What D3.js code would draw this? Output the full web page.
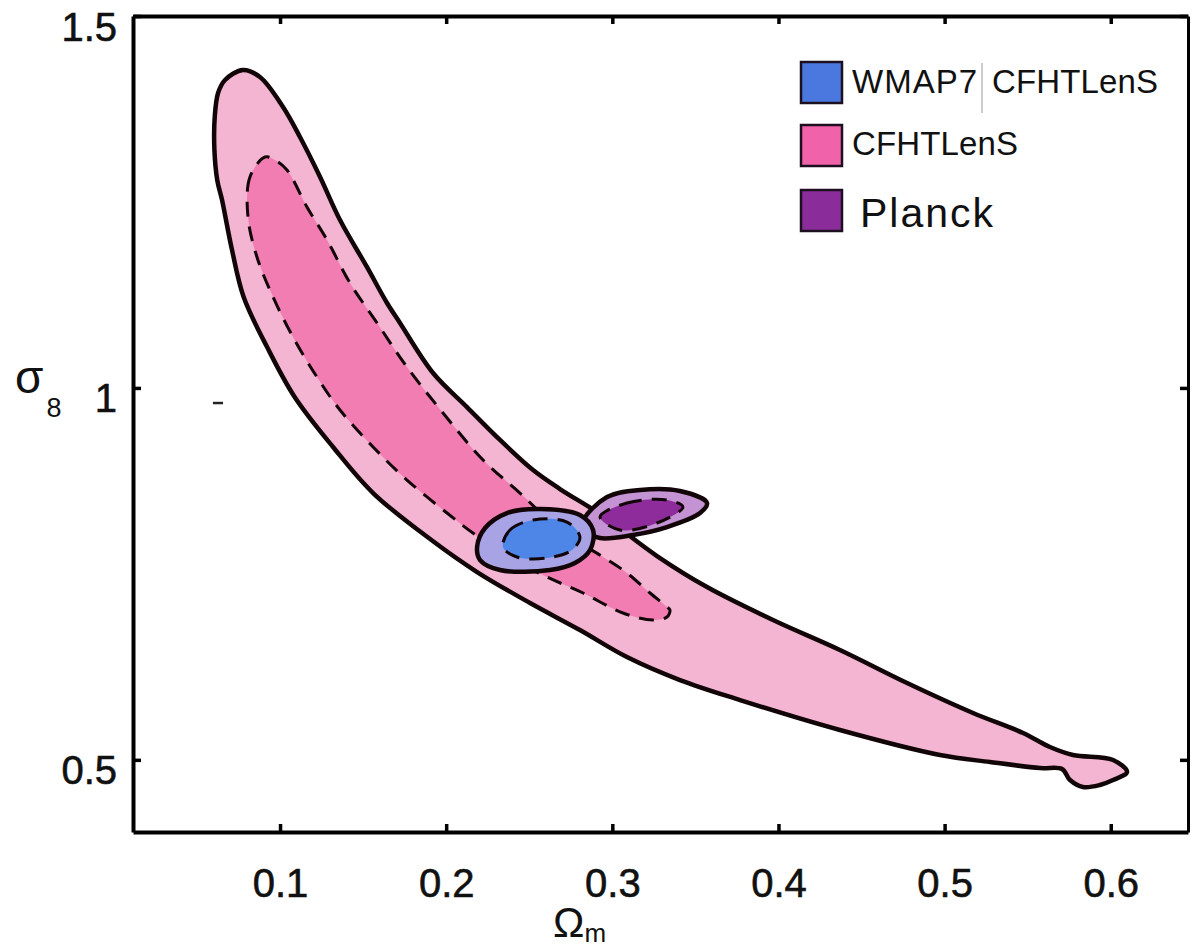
<!DOCTYPE html>
<meta charset="utf-8">
<html>
<head>
<style>
  body { margin: 0; background: #fff; }
  text { font-family: "Liberation Sans", Arial, sans-serif; fill: #111; }
</style>
</head>
<body>
<div id="my_dataviz"></div>
<script src="https://d3js.org/d3.v7.min.js"></script>
<script>

// ---- data (Omega_m, sigma_8) ----
var xTicks = [0.1, 0.2, 0.3, 0.4, 0.5, 0.6];
var yTicks = [0.5, 1, 1.5];

// CFHTLenS outer (2 sigma) contour
var cfhtOuter = [
  [0.0777,1.4274],[0.0669,1.4140],[0.0627,1.3965],[0.0607,1.3642],[0.0605,1.3199],
  [0.0622,1.2795],[0.0651,1.2526],[0.0711,1.1854],[0.0781,1.1222],[0.0922,1.0550],
  [0.1088,0.9878],[0.1319,0.9206],[0.1560,0.8587],[0.1911,0.7955],[0.2186,0.7525],
  [0.2505,0.7108],[0.2805,0.6745],[0.3088,0.6382],[0.3407,0.6073],[0.3769,0.5804],
  [0.4370,0.5401],[0.4972,0.5065],[0.5273,0.4971],[0.5574,0.4890],[0.5707,0.4877],
  [0.5755,0.4729],[0.5833,0.4635],[0.5935,0.4662],[0.6014,0.4729],[0.6098,0.4836],
  [0.6014,0.4998],[0.5773,0.5065],[0.5634,0.5172],[0.5472,0.5361],[0.5171,0.5630],
  [0.4774,0.6033],[0.4370,0.6477],[0.3967,0.6880],[0.3570,0.7323],[0.3269,0.7740],
  [0.2926,0.8305],[0.2685,0.8641],[0.2523,0.8896],[0.2324,0.9300],[0.2125,0.9743],
  [0.1921,1.0200],[0.1722,1.0873],[0.1644,1.1142],[0.1523,1.1626],[0.1361,1.2257],
  [0.1241,1.2836],[0.1120,1.3373],[0.1018,1.3777],[0.0879,1.4180]
];

// CFHTLenS inner (1 sigma) contour
var cfhtInner = [
  [0.0910,1.3104],[0.0819,1.2836],[0.0807,1.2298],[0.0861,1.1760],[0.0958,1.1222],
  [0.1078,1.0684],[0.1222,1.0147],[0.1361,0.9703],[0.1560,0.9206],[0.1764,0.8762],
  [0.2005,0.8318],[0.2161,0.8049],[0.2384,0.7713],[0.2607,0.7458],[0.2824,0.7243],
  [0.3064,0.6974],[0.3245,0.6880],[0.3329,0.6920],[0.3347,0.7014],[0.3329,0.7055],
  [0.3227,0.7243],[0.3088,0.7512],[0.2944,0.7727],[0.2685,0.8090],[0.2444,0.8587],
  [0.2222,0.9031],[0.1981,0.9663],[0.1764,1.0281],[0.1584,1.0873],[0.1421,1.1410],
  [0.1283,1.1989],[0.1162,1.2432],[0.1042,1.2930],[0.0970,1.3064]
];

// WMAP7 + CFHTLenS
var wmapOuter = [
  [0.2186,0.7861],[0.2234,0.8117],[0.2366,0.8318],[0.2565,0.8372],[0.2805,0.8291],
  [0.2884,0.8090],[0.2866,0.7821],[0.2775,0.7646],[0.2625,0.7552],[0.2324,0.7552],
  [0.2204,0.7686]
];
var wmapInner = [
  [0.2342,0.7861],[0.2384,0.8090],[0.2523,0.8224],[0.2727,0.8197],[0.2805,0.7996],
  [0.2757,0.7821],[0.2607,0.7713],[0.2426,0.7727]
];

// Planck
var planckOuter = [
  [0.2824,0.8197],[0.2968,0.8533],[0.3167,0.8628],[0.3407,0.8614],[0.3570,0.8453],
  [0.3528,0.8318],[0.3329,0.8130],[0.3125,0.8023],[0.2926,0.7982],[0.2854,0.8063]
];
var planckInner = [
  [0.2926,0.8265],[0.3088,0.8453],[0.3329,0.8493],[0.3425,0.8399],[0.3269,0.8184],
  [0.3046,0.8090]
];

// small stray contour fragment
var stray = [[0.0596,0.9797],[0.0657,0.9797]];

// ---- layout ----
var W = 1192, H = 950;
var svg = d3.select("#my_dataviz").append("svg")
    .attr("width", W).attr("height", H);

var x = d3.scaleLinear().domain([0.0115, 0.6465]).range([133, 1188]);
var y = d3.scaleLinear().domain([0.403, 1.5]).range([832, 16]);

var line = d3.line()
    .x(function(d) { return x(d[0]); })
    .y(function(d) { return y(d[1]); })
    .curve(d3.curveCatmullRomClosed.alpha(0.5));

function contour(pts, fill, dashed, sw) {
  svg.append("path")
    .datum(pts)
    .attr("d", line)
    .attr("fill", fill)
    .attr("stroke", "#120508")
    .attr("stroke-width", sw)
    .attr("stroke-linejoin", "round")
    .attr("stroke-dasharray", dashed ? "15,10" : null);
}

contour(cfhtOuter, "#f4b5d2", false, 4.5);
contour(cfhtInner, "#f17db3", true, 3);
contour(planckOuter, "#c393d3", false, 4.5);
contour(planckInner, "#8f2c9c", true, 3);
contour(wmapOuter, "#a7a3e4", false, 4.5);
contour(wmapInner, "#4d86e6", true, 3);

svg.append("path")
  .datum(stray)
  .attr("d", d3.line().x(function(d){ return x(d[0]); }).y(function(d){ return y(d[1]); }))
  .attr("stroke", "#222").attr("stroke-width", 2.5);

// ---- axes (ticks point inward) ----
var fs = 40;
var gx = svg.append("g").attr("transform", "translate(0," + y.range()[0] + ")")
  .call(d3.axisBottom(x).tickValues(xTicks).tickSize(-8).tickSizeOuter(0).tickPadding(37)
        .tickFormat(d3.format(".1f")));
var gy = svg.append("g").attr("transform", "translate(" + x.range()[0] + ",0)")
  .call(d3.axisLeft(y).tickValues(yTicks).tickSize(-8).tickSizeOuter(0).tickPadding(16)
        .tickFormat(function(d){ return d === 1 ? "1" : d3.format(".1f")(d); }));
var gt = svg.append("g").attr("transform", "translate(0," + y.range()[1] + ")")
  .call(d3.axisTop(x).tickValues(xTicks).tickSize(-8).tickSizeOuter(0).tickFormat(""));
var gr = svg.append("g").attr("transform", "translate(" + x.range()[1] + ",0)")
  .call(d3.axisRight(y).tickValues(yTicks).tickSize(-8).tickSizeOuter(0).tickFormat(""));

[gx, gy, gt, gr].forEach(function(g) {
  g.select(".domain").attr("stroke", "#000").attr("stroke-width", 4);
  g.selectAll(".tick line").attr("stroke", "#000").attr("stroke-width", 3.5);
  g.selectAll("text").attr("font-size", fs).attr("font-family", "Liberation Sans, Arial, sans-serif")
    .attr("fill", "#111").attr("stroke", "#111").attr("stroke-width", 0.6);
});
gy.selectAll("text").attr("dy", "0.6em");
gr.select(".domain").attr("stroke-width", 3);

// axis titles
var xl = svg.append("text").attr("x", 553).attr("y", 937).attr("font-size", 42);
xl.append("tspan").text("Ω");
xl.append("tspan").attr("font-size", 26).attr("dy", 5).text("m");

var yl = svg.append("text").attr("x", 15).attr("y", 393).attr("font-size", 46);
yl.append("tspan").text("σ");
yl.append("tspan").attr("font-size", 27).attr("dx", 3).attr("dy", 24).text("8");

// ---- legend ----
var legRects = [
  { y0: 62, fill: "#4a78df" },
  { y0: 125, fill: "#f062a9" },
  { y0: 190, fill: "#8a2c9a" }
];
legRects.forEach(function(r) {
  svg.append("rect").attr("x", 801).attr("y", r.y0).attr("width", 41).attr("height", 41)
    .attr("fill", r.fill).attr("stroke", "#1c0f20").attr("stroke-width", 2.5);
});
svg.append("text").attr("x", 852).attr("y", 93).attr("font-size", 33)
  .attr("textLength", 125).text("WMAP7");
svg.append("line").attr("x1", 982).attr("x2", 982).attr("y1", 63).attr("y2", 113)
  .attr("stroke", "#999").attr("stroke-width", 1);
svg.append("text").attr("x", 992).attr("y", 93).attr("font-size", 33)
  .attr("textLength", 166).text("CFHTLenS");
svg.append("text").attr("x", 852).attr("y", 155).attr("font-size", 33)
  .attr("textLength", 166).text("CFHTLenS");
svg.append("text").attr("x", 860).attr("y", 227).attr("font-size", 41)
  .attr("textLength", 133).text("Planck");

</script>
</body>
</html>
